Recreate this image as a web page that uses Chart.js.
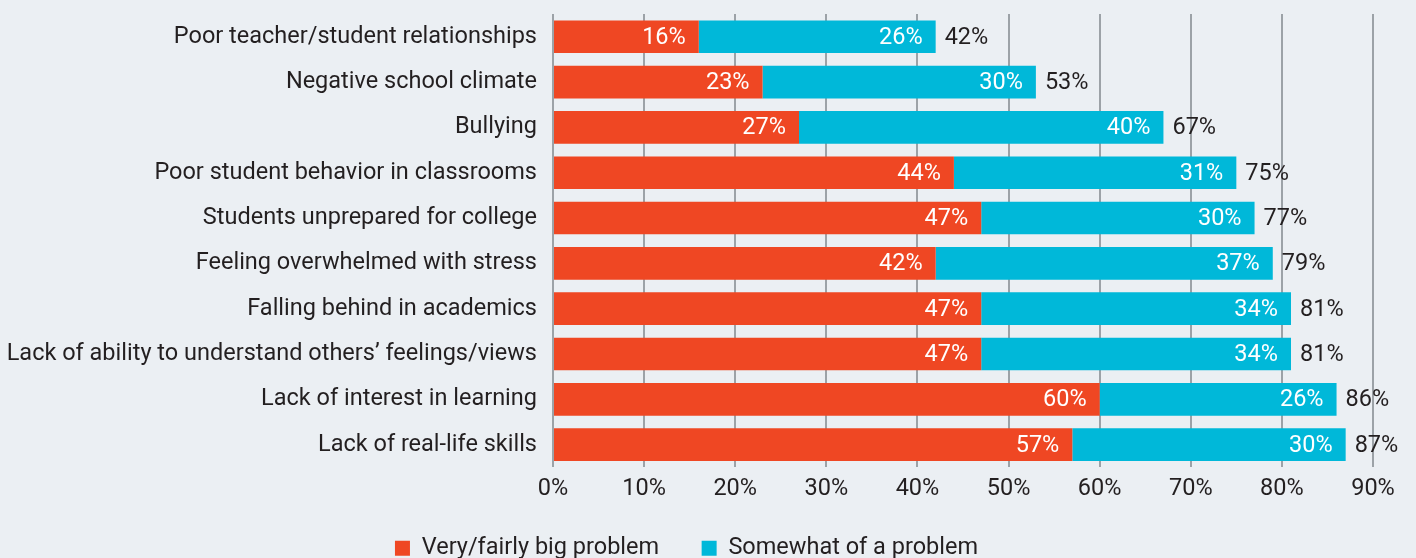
<!DOCTYPE html>
<html>
<head>
<meta charset="utf-8">
<script src="https://cdn.jsdelivr.net/npm/chart.js@4.4.1/dist/chart.umd.min.js"></script>
<style>
  html, body { margin: 0; padding: 0; background: #ebeff3; }
  #wrap { width: 1416px; height: 558px; }
</style>
</head>
<body>
<div id="wrap"><canvas id="chart" width="1416" height="558"></canvas></div>
<script>
// survey data
const categories = [
  "Poor teacher/student relationships",
  "Negative school climate",
  "Bullying",
  "Poor student behavior in classrooms",
  "Students unprepared for college",
  "Feeling overwhelmed with stress",
  "Falling behind in academics",
  "Lack of ability to understand others\u2019 feelings/views",
  "Lack of interest in learning",
  "Lack of real-life skills"
];
const bigProblem = [16, 23, 27, 44, 47, 42, 47, 47, 60, 57];
const somewhatProblem = [26, 30, 40, 31, 30, 37, 34, 34, 26, 30];
const xTicks = [0, 10, 20, 30, 40, 50, 60, 70, 80, 90];

const red = "#ef4723";
const cyan = "#00b8d9";
const dark = "#231f20";
const fontName = "Roboto, 'Noto Sans', sans-serif";

// white values inside each segment + total after the bar
const valueLabels = {
  id: "valueLabels",
  afterDatasetsDraw(chart) {
    const ctx = chart.ctx;
    ctx.save();
    ctx.font = "23.5px " + fontName;
    ctx.textBaseline = "middle";
    chart.data.datasets.forEach(function (ds, i) {
      const meta = chart.getDatasetMeta(i);
      meta.data.forEach(function (bar, j) {
        ctx.fillStyle = "#ffffff";
        ctx.textAlign = "right";
        ctx.fillText(ds.data[j] + "%", bar.x - 13, bar.y + 1);
        if (i === chart.data.datasets.length - 1) {
          let total = 0;
          chart.data.datasets.forEach(function (d) { total += d.data[j]; });
          ctx.fillStyle = dark;
          ctx.textAlign = "left";
          ctx.fillText(total + "%", bar.x + 9, bar.y + 1);
        }
      });
    });
    ctx.restore();
  }
};

new Chart(document.getElementById("chart").getContext("2d"), {
  type: "bar",
  data: {
    labels: categories,
    datasets: [
      {
        label: "Very/fairly big problem",
        data: bigProblem,
        backgroundColor: red,
        barPercentage: 1,
        categoryPercentage: 0.72
      },
      {
        label: "Somewhat of a problem",
        data: somewhatProblem,
        backgroundColor: cyan,
        barPercentage: 1,
        categoryPercentage: 0.72
      }
    ]
  },
  options: {
    indexAxis: "y",
    responsive: false,
    animation: false,
    layout: { padding: { top: 0, right: 43, left: 0, bottom: -12 } },
    plugins: {
      tooltip: { enabled: false },
      legend: {
        position: "bottom",
        labels: {
          color: dark,
          font: { family: fontName, size: 23.5 },
          boxWidth: 15,
          boxHeight: 15,
          padding: 25,
          generateLabels: function (chart) {
            const items = Chart.defaults.plugins.legend.labels.generateLabels(chart);
            items[0].text += "   ";
            return items;
          }
        }
      }
    },
    scales: {
      x: {
        stacked: true,
        min: 0,
        max: 90,
        afterBuildTicks: function (scale) {
          scale.ticks = xTicks.map(function (v) { return { value: v }; });
        },
        grid: { color: "#9ca2a7", lineWidth: 2, drawTicks: false },
        border: { display: false },
        ticks: {
          color: dark,
          padding: 8,
          font: { family: fontName, size: 23.5 },
          callback: function (v) { return v + "%"; }
        }
      },
      y: {
        stacked: true,
        // tick marks hidden, tickLength only pushes labels away from the bars
        grid: { display: false, drawTicks: true, tickLength: 16 },
        border: { display: false },
        afterFit: function (scale) { scale.width = 553; },
        ticks: {
          color: dark,
          padding: 0,
          font: { family: fontName, size: 23.5 }
        }
      }
    }
  },
  plugins: [valueLabels]
});
</script>
</body>
</html>
